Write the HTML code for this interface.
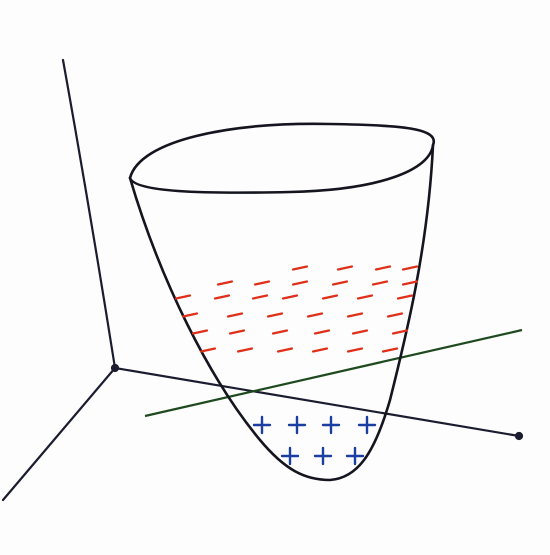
<!DOCTYPE html>
<html><head><meta charset="utf-8"><style>
html,body{margin:0;padding:0;background:#fff;}
svg{display:block;}
</style></head><body>
<svg id="chart" width="550" height="555" viewBox="0 0 550 555" xmlns="http://www.w3.org/2000/svg">
  <rect width="550" height="555" fill="#fdfdfd"/>
  <g stroke="#1c1c30" stroke-width="2.2" fill="none" stroke-linecap="round">
    <path d="M63,60 Q90,210 115,368"/>
    <path d="M115,368 L3,500"/>
    <path d="M115,368 L519,436"/>
    <circle cx="519" cy="436" r="3" fill="#1c1c30"/>
    <circle cx="115" cy="368" r="3" fill="#1c1c30"/>
  </g>
  <path d="M145,416 L522,330" stroke="#1f4a1f" stroke-width="2.2" fill="none"/>
  <g stroke="#15151f" stroke-width="2.6" fill="none" stroke-linecap="round">
    <path d="M130,178 C140,140 230,122 330,124 C400,125 440,128 433,145 C430,170 380,190 290,192 C200,194 135,192 130,178 Z"/>
    <path d="M130,178 C160,280 210,380 260,440 C285,470 305,480 330,480 C357,478 374,455 390,400 C405,340 428,250 433,145"/>
  </g>
  <g id="red"></g>
  <g id="blue"></g>
</svg>
<script>
const negRowY = [268, 283, 297, 315, 332, 350];
const negRowX = [
  [300, 345, 383, 410],
  [225, 262, 300, 340, 380, 410],
  [183, 222, 260, 290, 330, 365, 405],
  [190, 235, 275, 315, 355, 395],
  [200, 237, 280, 322, 360, 400],
  [208, 245, 285, 320, 355, 390]
];
const posRowY = [425, 456];
const posRowX = [[262, 297, 331, 367], [290, 323, 355]];
const NS = "http://www.w3.org/2000/svg";
const red = document.getElementById('red');
negRowY.forEach((y, i) => {
  negRowX[i].forEach(x => {
    const l = document.createElementNS(NS, 'line');
    l.setAttribute('x1', x - 7); l.setAttribute('y1', y + 1.5);
    l.setAttribute('x2', x + 7); l.setAttribute('y2', y - 1.5);
    l.setAttribute('stroke', '#e0301a'); l.setAttribute('stroke-width', '2.2');
    l.setAttribute('stroke-linecap', 'round');
    
    
    red.appendChild(l);
  });
});
const blue = document.getElementById('blue');
posRowY.forEach((y, i) => {
  posRowX[i].forEach(x => {
    const p = document.createElementNS(NS, 'path');
    p.setAttribute('d', `M${x-8},${y} L${x+8},${y} M${x},${y-8} L${x},${y+8}`);
    p.setAttribute('stroke', '#1a3fa0'); p.setAttribute('stroke-width', '2.4');
    p.setAttribute('stroke-linecap', 'round');
    
    
    blue.appendChild(p);
  });
});
</script>
</body></html>
